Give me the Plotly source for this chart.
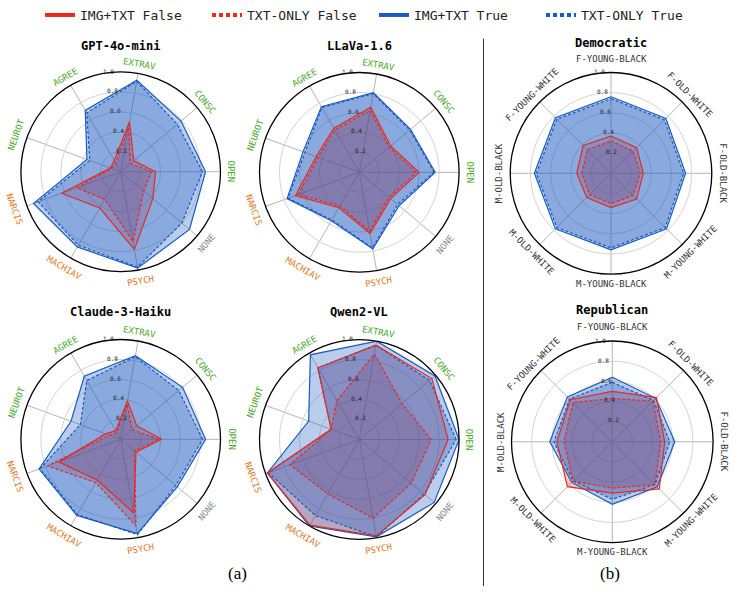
import math
import plotly.graph_objects as go

# ---------------- data ----------------
trait_cats = ["OPEN", "CONSC", "EXTRAV", "AGREE", "NEUROT", "NARCIS", "MACHIAV", "PSYCH", "NONE"]
trait_colors = ["#4aa82c"] * 5 + ["#e07a26"] * 3 + ["#8c8c8c"]

demo_cats = ["F-YOUNG-BLACK", "F-OLD-WHITE", "F-OLD-BLACK", "M-YOUNG-WHITE",
             "M-YOUNG-BLACK", "M-OLD-WHITE", "M-OLD-BLACK", "F-YOUNG-WHITE"]

series_names = ["IMG+TXT False", "TXT-ONLY False", "IMG+TXT True", "TXT-ONLY True"]

gpt_img_false = [0.35, 0.17, 0.51, 0.13, 0.11, 0.63, 0.42, 0.79, 0.42]
gpt_txt_false = [0.31, 0.13, 0.45, 0.10, 0.10, 0.47, 0.32, 0.71, 0.30]
gpt_img_true = [0.85, 0.79, 0.93, 0.71, 0.36, 0.93, 0.87, 0.98, 0.90]
gpt_txt_true = [0.82, 0.74, 0.92, 0.68, 0.33, 0.88, 0.85, 0.97, 0.80]

llava_img_false = [0.60, 0.41, 0.66, 0.51, 0.46, 0.68, 0.41, 0.62, 0.41]
llava_txt_false = [0.57, 0.39, 0.63, 0.49, 0.44, 0.65, 0.39, 0.60, 0.39]
llava_img_true = [0.76, 0.67, 0.81, 0.76, 0.60, 0.77, 0.56, 0.78, 0.52]
llava_txt_true = [0.75, 0.66, 0.80, 0.75, 0.58, 0.76, 0.55, 0.77, 0.50]

claude_img_false = [0.41, 0.21, 0.39, 0.10, 0.16, 0.66, 0.47, 0.75, 0.20]
claude_txt_false = [0.38, 0.15, 0.36, 0.08, 0.12, 0.78, 0.50, 0.88, 0.18]
claude_img_true = [0.85, 0.81, 0.85, 0.73, 0.53, 0.87, 0.88, 0.96, 0.74]
claude_txt_true = [0.82, 0.76, 0.84, 0.68, 0.43, 0.86, 0.87, 0.97, 0.72]

qwen_img_false = [0.89, 0.95, 0.96, 0.83, 0.30, 0.98, 0.99, 0.98, 0.86]
qwen_txt_false = [0.72, 0.56, 0.87, 0.45, 0.30, 0.74, 0.63, 0.80, 0.68]
qwen_img_true = [1.00, 0.99, 1.00, 0.98, 0.54, 0.98, 1.00, 0.99, 0.98]
qwen_txt_true = [0.97, 0.92, 0.96, 0.83, 0.30, 0.97, 0.88, 0.99, 0.85]

dem_img_false = [0.37, 0.36, 0.32, 0.36, 0.34, 0.34, 0.34, 0.39]
dem_txt_false = [0.32, 0.31, 0.29, 0.31, 0.30, 0.30, 0.29, 0.33]
dem_img_true = [0.76, 0.77, 0.74, 0.78, 0.76, 0.78, 0.76, 0.78]
dem_txt_true = [0.74, 0.75, 0.72, 0.76, 0.74, 0.76, 0.74, 0.76]

rep_img_false = [0.50, 0.62, 0.52, 0.66, 0.51, 0.63, 0.55, 0.59]
rep_txt_false = [0.43, 0.57, 0.48, 0.60, 0.46, 0.55, 0.48, 0.55]
rep_img_true = [0.64, 0.61, 0.62, 0.63, 0.62, 0.57, 0.62, 0.63]
rep_txt_true = [0.59, 0.58, 0.57, 0.60, 0.57, 0.55, 0.58, 0.60]

radial_ticks = [0.2, 0.4, 0.6, 0.8, 1.0]
radial_labels = ["0.2", "0.4", "0.6", "0.8", "1.0"]

# ---------------- styling / layout ----------------
W, H = 733, 592
RED = "#e8291c"
BLUE = "#1a5bbf"
MONO = "DejaVu Sans Mono"

panels = [
    dict(title="GPT-4o-mini", cats=trait_cats, colors=trait_colors, kind="trait",
         series=[gpt_img_false, gpt_txt_false, gpt_img_true, gpt_txt_true],
         cx=120.7, cy=166.7, R=101, ty=39),
    dict(title="LLaVa-1.6", cats=trait_cats, colors=trait_colors, kind="trait",
         series=[llava_img_false, llava_txt_false, llava_img_true, llava_txt_true],
         cx=359.3, cy=167.3, R=101, ty=39),
    dict(title="Claude-3-Haiku", cats=trait_cats, colors=trait_colors, kind="trait",
         series=[claude_img_false, claude_txt_false, claude_img_true, claude_txt_true],
         cx=120.7, cy=437.5, R=101, ty=309),
    dict(title="Qwen2-VL", cats=trait_cats, colors=trait_colors, kind="trait",
         series=[qwen_img_false, qwen_txt_false, qwen_img_true, qwen_txt_true],
         cx=359.3, cy=437.7, R=101, ty=309),
    dict(title="Democratic", cats=demo_cats, colors=["#333333"] * 8, kind="demo",
         series=[dem_img_false, dem_txt_false, dem_img_true, dem_txt_true],
         cx=611.0, cy=168.3, R=102, ty=36.5),
    dict(title="Republican", cats=demo_cats, colors=["#333333"] * 8, kind="demo",
         series=[rep_img_false, rep_txt_false, rep_img_true, rep_txt_true],
         cx=612.3, cy=440.0, R=102, ty=307),
]

styles = [
    dict(color=RED, dash="solid", fill="rgba(232,41,28,0.25)"),
    dict(color=RED, dash="3px,2px", fill="rgba(232,41,28,0.25)"),
    dict(color=BLUE, dash="solid", fill="rgba(26,91,191,0.30)"),
    dict(color=BLUE, dash="3px,2px", fill="rgba(26,91,191,0.30)"),
]
line_order = [2, 3, 0, 1]

fig = go.Figure()
annotations = []
layout_polars = {}

for i, p in enumerate(panels):
    key = "polar" if i == 0 else f"polar{i + 1}"
    sub = key
    cx, cy, R = p["cx"], p["cy"], p["R"]
    dom_x = [(cx - R) / W, (cx + R) / W]
    dom_y = [1 - (cy + R) / H, 1 - (cy - R) / H]
    if p["kind"] == "trait":
        rot, direction = 0, "counterclockwise"
    else:
        rot, direction = 90, "clockwise"
    layout_polars[key] = dict(
        domain=dict(x=dom_x, y=dom_y),
        bgcolor="white",
        radialaxis=dict(range=[0, 1], tickvals=radial_ticks, showticklabels=False,
                        showline=False, ticks="", angle=90,
                        gridcolor="#d4d4d4", gridwidth=1),
        angularaxis=dict(rotation=rot, direction=direction, showticklabels=False,
                         ticks="", showline=True, linecolor="black", linewidth=1.3,
                         gridcolor="#b4b4b4", gridwidth=1,
                         categoryarray=p["cats"], type="category"),
    )
    cats_closed = p["cats"] + [p["cats"][0]]
    # fills first (red then blue), lines on top
    for s in range(4):
        vals = p["series"][s]
        st = styles[s]
        fig.add_trace(go.Scatterpolar(
            r=vals + [vals[0]], theta=cats_closed, mode="lines",
            fill="toself", fillcolor=st["fill"], line=dict(width=0, color=st["color"]),
            showlegend=False, subplot=sub, hoverinfo="skip"))
    for s in line_order:
        vals = p["series"][s]
        st = styles[s]
        fig.add_trace(go.Scatterpolar(
            r=vals + [vals[0]], theta=cats_closed, mode="lines",
            line=dict(color=st["color"], width=1.2, dash=st["dash"]),
            name=series_names[s], showlegend=False, subplot=sub, hoverinfo="skip"))
    # title
    annotations.append(dict(x=cx / W, y=1 - p["ty"] / H, xref="paper", yref="paper",
                            text=f"<b>{p['title']}</b>", showarrow=False,
                            font=dict(family=MONO, size=12, color="black"),
                            xanchor="center", yanchor="middle"))
    # radial tick labels
    for v, lab in zip(radial_ticks, radial_labels):
        a = math.radians(99)
        x = cx + v * R * math.cos(a) + 4
        y = cy - v * R * math.sin(a) - 2
        annotations.append(dict(x=x / W, y=1 - y / H, xref="paper", yref="paper",
                                text=lab, showarrow=False,
                                font=dict(family=MONO, size=6, color="#222"),
                                xanchor="center", yanchor="middle"))
    # category labels
    n = len(p["cats"])
    for k, (cat, col) in enumerate(zip(p["cats"], p["colors"])):
        if p["kind"] == "trait":
            th = 360.0 * k / n
        else:
            th = (90 - 360.0 * k / n) % 360
        thn = th % 360
        if 180 < thn < 360:
            ang = 270 - thn
        else:
            ang = 90 - thn
        if ang > 180:
            ang -= 360
        if ang < -180:
            ang += 360
        if p["kind"] == "trait":
            d = 9.5 if thn <= 180 else 11.5
        else:
            d = 14 if abs(thn - 90) < 1 else 10
        rr = R + d
        x = cx + rr * math.cos(math.radians(thn))
        y = cy - rr * math.sin(math.radians(thn))
        annotations.append(dict(x=x / W, y=1 - y / H, xref="paper", yref="paper",
                                text=cat, showarrow=False, textangle=ang,
                                font=dict(family=MONO, size=9, color=col),
                                xanchor="center", yanchor="middle"))

# legend-only entries
for s in range(4):
    st = styles[s]
    fig.add_trace(go.Scatterpolar(
        r=[None], theta=[None], mode="lines", name=series_names[s],
        line=dict(color=st["color"], width=4,
                  dash="solid" if st["dash"] == "solid" else "4px,3px"),
        showlegend=True, subplot="polar"))

for txt, xc in (("(a)", 237), ("(b)", 610)):
    annotations.append(dict(x=xc / W, y=1 - 573 / H, xref="paper", yref="paper", text=txt,
                            showarrow=False,
                            font=dict(family="Liberation Serif", size=17, color="black"),
                            xanchor="center", yanchor="middle"))

fig.update_layout(
    width=W, height=H,
    margin=dict(l=0, r=0, t=0, b=0),
    paper_bgcolor="white",
    showlegend=True,
    legend=dict(orientation="h", x=40 / W, xanchor="left", y=1.012, yanchor="top",
                font=dict(family=MONO, size=13, color="#222"),
                bgcolor="rgba(0,0,0,0)", itemwidth=30,
                entrywidth=122, entrywidthmode="pixels"),
    annotations=annotations,
    shapes=[dict(type="line", xref="paper", yref="paper",
                 x0=483.5 / W, x1=483.5 / W, y0=1 - 586 / H, y1=1 - 32 / H,
                 line=dict(color="#333", width=1))],
    **layout_polars,
)

fig.write_html("out.html")
